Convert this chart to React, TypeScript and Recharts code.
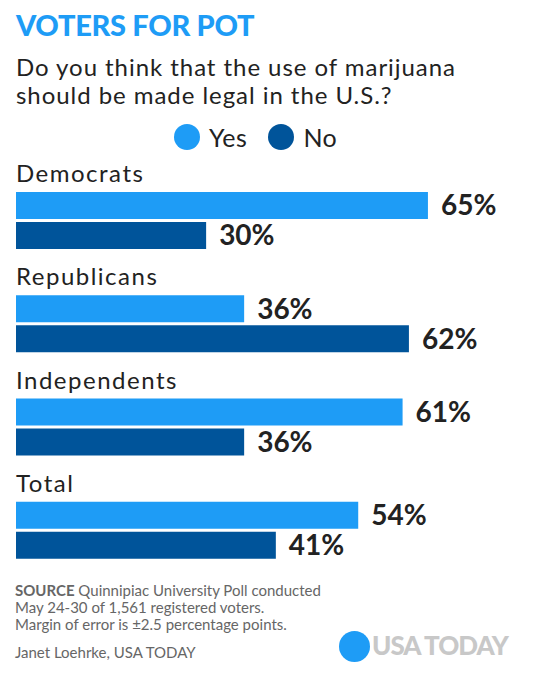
import React from "react";
import { BarChart, Bar, XAxis, YAxis, LabelList, Legend } from "recharts";

const categories = ["Democrats", "Republicans", "Independents", "Total"];
const yesValues = [65, 36, 61, 54];
const noValues = [30, 62, 36, 41];
const seriesNames = ["Yes", "No"];

const data = categories.map((c, i) => ({ name: c, yes: yesValues[i], no: noValues[i] }));

const YES = "#1E9CF6";
const NO = "#00549A";
const DARK = "#222222";
const FONT = "Lato, 'Open Sans', sans-serif";

const GroupLabel = (props: any) => {
  const { x, y, value } = props;
  return (
    <text x={x} y={y - 10} fill={DARK} fontSize={24} letterSpacing={1.5} fontFamily={FONT}>
      {value}
    </text>
  );
};

const LegendContent = (props: any) => {
  const payload = [...(props.payload || [])].sort(
    (a: any, b: any) => seriesNames.indexOf(a.value) - seriesNames.indexOf(b.value)
  );
  return (
    <div style={{ height: 0, overflow: "visible" }}>
      <div style={{ display: "flex", justifyContent: "flex-start", paddingLeft: 174, alignItems: "center", fontFamily: FONT, height: 30 }}>
        {payload.map((p: any, i: number) => (
          <div key={i} style={{ display: "flex", alignItems: "center", marginLeft: i ? 21 : 0 }}>
            <span style={{ width: 26, height: 26, borderRadius: 13, background: p.color, display: "inline-block" }} />
            <span style={{ marginLeft: 9, fontSize: 25, letterSpacing: 0.5, color: DARK }}>{p.value}</span>
          </div>
        ))}
      </div>
    </div>
  );
};

export default function App() {
  return (
    <div style={{ position: "relative", width: 540, height: 674, background: "#fff", overflow: "hidden" }}>
      <style>{"body{margin:0}"}</style>
      <svg width={540} height={674} style={{ position: "absolute", left: 0, top: 0 }}>
        <text x={16} y={36} fill="#1E9CF6" fontSize={29} fontWeight={900} letterSpacing={-0.3} fontFamily={FONT}>VOTERS FOR POT</text>
        <text x={16} y={76} fill={DARK} fontSize={24} letterSpacing={0.95} fontFamily={FONT}>Do you think that the use of marijuana</text>
        <text x={16} y={104} fill={DARK} fontSize={24} letterSpacing={0.95} fontFamily={FONT}>should be made legal in the U.S.?</text>
        <text fill="#666" fontSize={15} fontFamily={FONT}>
          <tspan x={15} y={596} fontWeight={700}>SOURCE</tspan>
          <tspan> Quinnipiac University Poll conducted</tspan>
          <tspan x={15} y={613}>May 24-30 of 1,561 registered voters.</tspan>
          <tspan x={15} y={630}>Margin of error is ±2.5 percentage points.</tspan>
        </text>
        <text x={15} y={658} fill="#666" fontSize={15} fontFamily={FONT}>Janet Loehrke, USA TODAY</text>
        <circle cx={354.5} cy={646.5} r={15.5} fill={YES} />
        <text x={372} y={655} fill="#c8c8c8" fontSize={26} fontWeight={900} fontFamily={FONT} letterSpacing={-1}>USA TODAY</text>
      </svg>
      <div style={{ position: "absolute", left: 0, top: 0 }}>
        <BarChart
          width={540}
          height={674}
          data={data}
          layout="vertical"
          margin={{ top: 169, right: 17, bottom: 92, left: 16 }}
          barSize={27}
          barGap={3}
        >
          <XAxis type="number" domain={[0, 80]} hide />
          <YAxis type="category" dataKey="name" hide />
          <Legend
            content={<LegendContent />}
            wrapperStyle={{ position: "absolute", top: 122, left: 0, width: 540, height: 0 }}
          />
          <Bar dataKey="yes" name={seriesNames[0]} fill={YES} isAnimationActive={false}>
            <LabelList dataKey="name" content={<GroupLabel />} />
            <LabelList
              dataKey="yes"
              position="right"
              offset={13}
              formatter={(v: any) => `${v}%`}
              fill={DARK}
              fontSize={28}
              fontWeight={700}
              fontFamily={FONT}
            />
          </Bar>
          <Bar dataKey="no" name={seriesNames[1]} fill={NO} isAnimationActive={false}>
            <LabelList
              dataKey="no"
              position="right"
              offset={13}
              formatter={(v: any) => `${v}%`}
              fill={DARK}
              fontSize={28}
              fontWeight={700}
              fontFamily={FONT}
            />
          </Bar>
        </BarChart>
      </div>
    </div>
  );
}
